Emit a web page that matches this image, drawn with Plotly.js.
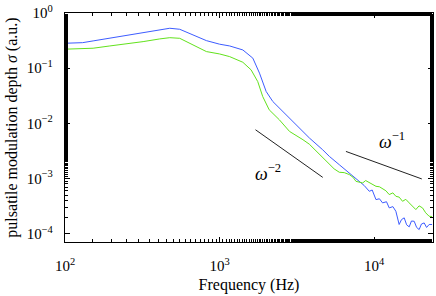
<!DOCTYPE html>
<html>
<head>
<meta charset="utf-8">
<script src="https://cdn.plot.ly/plotly-3.0.1.min.js"></script>
<style>html,body{margin:0;padding:0;background:#fff;}#chart{width:436px;height:296px;}</style>
</head>
<body>
<div id="chart"></div>
<script>
// Blue series
const blueFreq = [100,119,130,152,195,250,320,410,476,552,673,821,1000,1161,1413,1640,1811,2000,2208,2560,3124,3810,4636,5125,5943,6900,8000,8600,9290,9700,10260,10800,11320,12000,12500,13200,13800,14490,15000,15620,16200,16830,17400,18130,18800,19520,20200,21030,21800,22650,23660];
const blueSigma = [0.283,0.283,0.290,0.312,0.349,0.389,0.430,0.493,0.529,0.507,0.400,0.316,0.272,0.253,0.214,0.152,0.0812,0.0378,0.0249,0.0164,0.00944,0.00542,0.00333,0.00252,0.00178,0.00126,0.000889,0.00075,0.000587,0.00062,0.000415,0.00043,0.000362,0.00038,0.000294,0.00031,0.000255,0.000147,0.00018,0.000194,0.000145,0.000133,0.00017,0.000168,0.00013,0.000119,0.00015,0.000157,0.00013,0.000147,0.000147];
// Green series
const greenFreq = [100,152,195,250,320,410,476,552,673,821,1000,1161,1413,1598,1764,1900,2092,2434,2832,3100,3459,3800,4226,4670,5125,5500,5943,6400,6900,7300,7620,8000,8420,8800,9290,9800,10260,10800,11320,11900,12500,13200,13800,14500,15240,16000,16830,17700,18580,19500,20520,21500,22650,23660];
const greenSigma = [0.221,0.230,0.253,0.275,0.303,0.339,0.357,0.348,0.264,0.200,0.181,0.162,0.128,0.0931,0.0572,0.0306,0.0176,0.0116,0.00714,0.0062,0.00505,0.0042,0.00310,0.00236,0.00178,0.0015,0.00130,0.00128,0.00118,0.00105,0.000889,0.00087,0.000832,0.00092,0.000853,0.00078,0.000723,0.00071,0.000649,0.00060,0.000512,0.00055,0.000477,0.00046,0.000387,0.00042,0.000362,0.00031,0.000274,0.00032,0.000294,0.00024,0.000207,0.000205];
// Guide slopes
const slope2Freq = [1706, 4645];
const slope2Sigma = [0.00766, 0.00105];
const slope1Freq = [6560, 20300];
const slope1Sigma = [0.0031, 0.000984];
// Tick labels
const yTickVals = [1, 0.1, 0.01, 0.001, 0.0001];
const yTickText = ['10<sup>0</sup>','10<sup>−1</sup>','10<sup>−2</sup>','10<sup>−3</sup>','10<sup>−4</sup>'];
const xTickVals = [100, 1000, 10000];
const xTickText = ['10<sup>2</sup>','10<sup>3</sup>','10<sup>4</sup>'];
const labels = {x: 'Frequency (Hz)', y: 'pulsatile modulation depth <i>σ</i> (a.u.)', s2: '<i>ω</i><sup>−2</sup>', s1: '<i>ω</i><sup>−1</sup>'};

const font = 'Liberation Serif, Times New Roman, serif';
const traces = [
  {x: blueFreq, y: blueSigma, mode: 'lines', line: {color: '#3d5cff', width: 1}, showlegend: false, hoverinfo: 'skip'},
  {x: greenFreq, y: greenSigma, mode: 'lines', line: {color: '#62e21c', width: 1}, showlegend: false, hoverinfo: 'skip'},
  {x: slope2Freq, y: slope2Sigma, mode: 'lines', line: {color: '#222', width: 1}, showlegend: false, hoverinfo: 'skip'},
  {x: slope1Freq, y: slope1Sigma, mode: 'lines', line: {color: '#222', width: 1}, showlegend: false, hoverinfo: 'skip'}
];
const axisCommon = {
  type: 'log', showgrid: false, zeroline: false, showline: true, linecolor: '#000', linewidth: 1.2,
  mirror: 'ticks', ticks: 'inside', ticklen: 5, tickcolor: '#000', tickwidth: 1,
  tickfont: {family: font, size: 15, color: '#000'},
  minor: {ticks: 'inside', ticklen: 3, tickcolor: '#000', tickwidth: 1, showgrid: false}
};
const layout = {
  width: 436, height: 296,
  margin: {l: 65, r: 3, t: 13, b: 54},
  paper_bgcolor: '#fff', plot_bgcolor: '#fff',
  font: {family: font, color: '#000'},
  xaxis: Object.assign({}, axisCommon, {
    range: [2, 4.38], tickmode: 'array', tickvals: xTickVals, ticktext: xTickText,
    ticklabelstandoff: 10,
    title: {text: labels.x, font: {family: font, size: 16, color: '#000'}, standoff: 5}
  }),
  yaxis: Object.assign({}, axisCommon, {
    range: [-4.15, 0], tickmode: 'array', tickvals: yTickVals, ticktext: yTickText,
    ticklabelstandoff: 8,
    title: {text: labels.y, font: {family: font, size: 16, color: '#000'}, standoff: 5}
  }),
  annotations: [
    {x: Math.log10(2040), y: Math.log10(0.00128), xref: 'x', yref: 'y', text: labels.s2, showarrow: false, font: {family: font, size: 18, color: '#000'}},
    {x: Math.log10(13060), y: Math.log10(0.00484), xref: 'x', yref: 'y', text: labels.s1, showarrow: false, font: {family: font, size: 18, color: '#000'}}
  ]
};
Plotly.newPlot('chart', traces, layout, {staticPlot: true, displayModeBar: false});
</script>
</body>
</html>
